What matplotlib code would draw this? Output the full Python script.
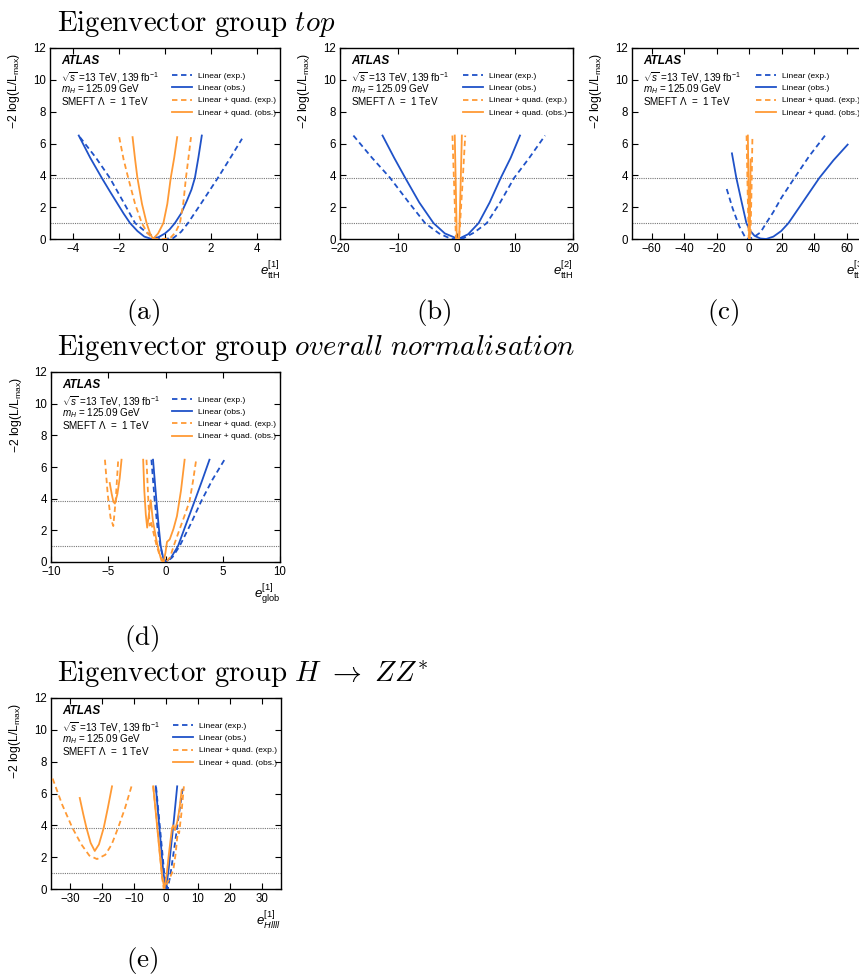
import numpy as np
import matplotlib
matplotlib.use("Agg")
import matplotlib.pyplot as plt

plt.rcParams['font.family'] = ['Liberation Sans', 'DejaVu Sans']
plt.rcParams['mathtext.fontset'] = 'custom'
plt.rcParams['mathtext.rm'] = 'Liberation Sans'
plt.rcParams['mathtext.it'] = 'Liberation Sans:italic'
plt.rcParams['mathtext.bf'] = 'Liberation Sans:bold'

BLUE = '#1f52c8'
ORANGE = '#ff9a35'

# ---- panel (a): e_ttH^[1]
a_lin_exp_x = [-3.7, -3.0, -2.4, -1.8, -1.3, -0.8, -0.4, -0.1, 0.35, 0.7, 1.0, 1.6, 2.3, 2.8, 3.35]
a_lin_exp_y = [6.4, 5.1, 3.84, 2.3, 1.0, 0.4, 0.1, 0.0, 0.05, 0.45, 1.0, 2.3, 3.84, 5.0, 6.3]
a_lin_obs_x = [-3.75, -3.25, -2.75, -2.4, -2.1, -1.8, -1.52, -1.2, -0.9, -0.58, -0.3, 0.0, 0.2, 0.43, 0.7, 0.95, 1.15, 1.3, 1.45, 1.6]
a_lin_obs_y = [6.5, 5.1, 3.84, 3.0, 2.3, 1.6, 1.0, 0.5, 0.15, 0.0, 0.1, 0.35, 0.6, 1.0, 1.6, 2.4, 3.1, 3.84, 5.1, 6.5]
a_quad_exp_x = [-1.99, -1.8, -1.6, -1.3, -1.01, -0.75, -0.5, -0.2, 0.2, 0.45, 0.65, 0.8, 0.91, 1.02, 1.13]
a_quad_exp_y = [6.4, 5.0, 3.84, 2.2, 1.0, 0.35, 0.0, 0.0, 0.02, 0.4, 1.0, 2.3, 3.84, 5.1, 6.4]
a_quad_obs_x = [-1.41, -1.3, -1.2, -1.0, -0.8, -0.65, -0.52, -0.3, -0.07, 0.1, 0.25, 0.4, 0.53]
a_quad_obs_y = [6.4, 5.0, 3.84, 2.2, 1.0, 0.35, 0.0, 0.35, 1.0, 2.2, 3.84, 5.1, 6.4]

# ---- panel (b): e_ttH^[2]
b_lin_exp_x = [-17.7, -14.5, -11.4, -8.3, -5.4, -3.0, -1.0, 0.3, 1.2, 3.0, 5.2, 7.5, 9.9, 12.5, 15.2]
b_lin_exp_y = [6.5, 5.1, 3.84, 2.35, 1.0, 0.35, 0.02, 0.0, 0.05, 0.4, 1.0, 2.3, 3.84, 5.1, 6.5]
b_lin_obs_x = [-12.7, -10.7, -8.8, -6.4, -3.95, -2.0, 0.3, 2.0, 3.8, 5.7, 7.6, 9.3, 10.9]
b_lin_obs_y = [6.5, 5.1, 3.84, 2.3, 1.0, 0.35, 0.0, 0.3, 1.0, 2.3, 3.84, 5.1, 6.5]
b_quad_exp_x = [-0.7, -0.4, -0.1, 0.2, 0.46, 1.0, 1.5]
b_quad_exp_y = [6.5, 3.3, 0.05, 0.0, 0.05, 3.3, 6.5]
b_quad_obs_x = [-0.3, -0.12, 0.05, 0.25, 0.45, 0.7, 0.92]
b_quad_obs_y = [6.5, 3.3, 0.05, 0.0, 0.05, 3.3, 6.5]

# ---- panel (c): e_ttH^[3]
c_lin_exp_x = [-13.7, -10, -6, -2.1, 0, 3, 7.1, 10.6, 15, 20, 28, 37, 46.8]
c_lin_exp_y = [3.14, 1.9, 0.8, 0.06, 0.0, 0.12, 0.42, 1.0, 1.7, 2.6, 3.84, 5.2, 6.5]
c_lin_obs_x = [-10.5, -7.8, -4.7, -1.6, 0.5, 3.4, 7, 10.6, 15, 19.8, 24.3, 33, 43.3, 52, 60.7]
c_lin_obs_y = [5.38, 3.84, 2.4, 1.0, 0.55, 0.2, 0.03, 0.0, 0.15, 0.5, 1.0, 2.3, 3.84, 4.95, 5.93]
c_quad_exp_x = [-1.5, -0.9, -0.2, 0.3, 0.9, 1.6, 2.1]
c_quad_exp_y = [6.5, 3.3, 0.1, 0.0, 0.1, 3.3, 6.4]
c_quad_obs_x = [-0.7, -0.3, 0.1, 0.3, 0.55, 0.8, 1.0]
c_quad_obs_y = [6.5, 3.3, 0.1, 0.0, 0.5, 3.0, 5.0]

# ---- panel (d): e_glob^[1]
d_lin_exp_x = [-1.23, -0.94, -0.7, -0.45, -0.2, 0.1, 0.6, 1.23, 2.2, 3.12, 4.1, 5.15]
d_lin_exp_y = [6.46, 3.84, 2.2, 1.0, 0.25, 0.0, 0.3, 1.0, 2.4, 3.84, 5.2, 6.46]
d_lin_obs_x = [-1.09, -0.79, -0.6, -0.42, -0.2, 0.02, 0.5, 1.09, 1.8, 2.54, 3.2, 3.84]
d_lin_obs_y = [6.46, 3.84, 2.3, 1.0, 0.25, 0.0, 0.3, 1.0, 2.4, 3.84, 5.15, 6.46]
d_quad_exp_x1 = [-5.29, -5.05, -4.8, -4.56, -4.35, -4.13]
d_quad_exp_y1 = [6.46, 4.3, 2.8, 2.27, 3.9, 6.46]
d_quad_exp_x2 = [-1.66, -1.52, -1.38, -1.28, -1.1, -0.8, -0.5, -0.2, 0.05, 0.4, 0.71, 1.2, 1.7, 2.1, 2.4, 2.68]
d_quad_exp_y2 = [6.46, 4.2, 2.3, 2.6, 2.0, 1.1, 0.4, 0.05, 0.0, 0.3, 1.0, 2.0, 3.0, 3.84, 5.1, 6.46]
d_quad_obs_x1 = [-4.87, -4.7, -4.55, -4.42, -4.2, -4.0, -3.84]
d_quad_obs_y1 = [4.99, 4.3, 3.8, 3.69, 4.3, 5.3, 6.46]
d_quad_obs_x2 = [-1.95, -1.85, -1.72, -1.6, -1.45, -1.29, -1.1, -0.8, -0.55, -0.36, -0.16, 0.0, 0.13, 0.37, 0.7, 1.0, 1.35, 1.67]
d_quad_obs_y2 = [6.46, 4.5, 3.0, 2.17, 3.0, 3.9, 2.6, 1.4, 0.6, 0.1, 0.0, 0.6, 1.27, 1.43, 2.1, 2.9, 4.5, 6.46]

# ---- panel (e): e_Hllll^[1]
e_lin_exp_x = [-3.1, -2.2, -1.3, -0.5, 0.5, 1.3, 2.1, 2.9, 3.7, 4.5, 5.3]
e_lin_exp_y = [6.4, 4.5, 2.6, 0.9, 0.0, 0.8, 1.9, 3.0, 4.2, 5.3, 6.4]
e_lin_obs_x = [-3.2, -2.4, -1.6, -0.8, 0.0, 0.8, 1.6, 2.5, 3.5]
e_lin_obs_y = [6.45, 4.6, 2.8, 1.0, 0.0, 1.2, 2.7, 4.4, 6.45]
e_quad_exp_x1 = [-35.5, -32.5, -29.3, -26.5, -24, -21.6, -19, -17, -15, -12.8, -10.8]
e_quad_exp_y1 = [6.94, 5.3, 3.84, 2.8, 2.1, 1.88, 2.15, 2.8, 3.84, 5.1, 6.45]
e_quad_exp_x2 = [-4.0, -3.0, -2.0, -1.2, -0.7, 0.2, 1.2, 2.3, 3.0, 3.7, 4.1, 4.8, 5.6]
e_quad_exp_y2 = [6.45, 4.5, 2.4, 0.7, 0.0, 0.3, 0.7, 1.2, 2.2, 3.6, 3.5, 4.7, 6.45]
e_quad_obs_x1 = [-27, -25.9, -24.9, -23.6, -22.3, -21, -19.5, -18.2, -16.9]
e_quad_obs_y1 = [5.72, 4.7, 3.84, 2.9, 2.39, 2.8, 3.84, 5.1, 6.45]
e_quad_obs_x2 = [-4.0, -3.0, -2.0, -1.2, -0.5, 0.2, 0.9, 1.5, 1.9, 2.3, 2.8, 3.5, 4.2, 4.9]
e_quad_obs_y2 = [6.45, 4.4, 2.3, 0.8, 0.0, 0.9, 2.2, 3.2, 3.84, 4.0, 3.7, 4.2, 5.0, 6.2]

labels = ['Linear (exp.)', 'Linear (obs.)', 'Linear + quad. (exp.)', 'Linear + quad. (obs.)']


def join(*segs):
    out = []
    for i, s in enumerate(segs):
        if i:
            out.append(np.nan)
        out.extend(s)
    return np.array(out, dtype=float)


W, H = 859, 977
fig = plt.figure(figsize=(W / 100, H / 100), dpi=100)


def px_rect(left, top, right, bottom):
    return [left / W, 1 - bottom / H, (right - left) / W, (bottom - top) / H]


def panel(rect, xlim, xticks, xlabel, lin_exp, lin_obs, quad_exp, quad_obs):
    ax = fig.add_axes(rect)
    ax.axhline(3.84, color='#777777', lw=0.8, ls=(0, (1, 1)), zorder=1)
    ax.axhline(1.0, color='#777777', lw=0.8, ls=(0, (1, 1)), zorder=1)
    styles = [(BLUE, (0, (3, 2))), (BLUE, '-'), (ORANGE, (0, (3, 2))), (ORANGE, '-')]
    for (xs, ys), (col, ls), lab in zip([lin_exp, lin_obs, quad_exp, quad_obs], styles, labels):
        ax.plot(xs, ys, color=col, ls=ls, lw=1.3, label=lab, zorder=3,
                solid_joinstyle='round', dash_joinstyle='round')
    ax.set_xlim(*xlim)
    ax.set_ylim(0, 12)
    ax.set_xticks(xticks)
    ax.set_yticks(range(0, 13, 2))
    ax.tick_params(direction='in', top=True, right=True, length=4, width=0.8,
                   labelsize=8.3, pad=3)
    for sp in ax.spines.values():
        sp.set_linewidth(1.0)
    ax.set_ylabel(r'$-$2 log(L/L$_{\rm max}$)', fontsize=8.7, loc='top')
    ax.yaxis.set_label_coords(-0.12, 0.975)
    ax.set_xlabel(xlabel, fontsize=9.5, loc='right', labelpad=3)
    ax.text(0.047, 0.934, 'ATLAS', transform=ax.transAxes, fontsize=8.5,
            weight='bold', style='italic', va='center')
    ax.text(0.047, 0.845, r'$\sqrt{s}$ =13 TeV, 139 fb$^{-1}$', transform=ax.transAxes,
            fontsize=7.1, va='center')
    ax.text(0.047, 0.783, r'$m_H$ = 125.09 GeV', transform=ax.transAxes,
            fontsize=7.1, va='center')
    ax.text(0.047, 0.72, r'SMEFT $\Lambda$  =  1 TeV', transform=ax.transAxes,
            fontsize=7.1, va='center')
    ax.legend(loc='upper left', bbox_to_anchor=(0.53, 0.873), frameon=False, fontsize=6,
              handlelength=2.4, handletextpad=0.7, labelspacing=0.52,
              borderpad=0, borderaxespad=0)
    return ax


panel(px_rect(50, 48, 280, 239), (-5, 5), [-4, -2, 0, 2, 4], r'$e^{[1]}_{\rm ttH}$',
      (a_lin_exp_x, a_lin_exp_y), (a_lin_obs_x, a_lin_obs_y),
      (a_quad_exp_x, a_quad_exp_y), (a_quad_obs_x, a_quad_obs_y))
panel(px_rect(340, 48, 573, 239), (-20, 20), [-20, -10, 0, 10, 20], r'$e^{[2]}_{\rm ttH}$',
      (b_lin_exp_x, b_lin_exp_y), (b_lin_obs_x, b_lin_obs_y),
      (b_quad_exp_x, b_quad_exp_y), (b_quad_obs_x, b_quad_obs_y))
panel(px_rect(632, 48, 866, 239), (-72, 72), [-60, -40, -20, 0, 20, 40, 60], r'$e^{[3]}_{\rm ttH}$',
      (c_lin_exp_x, c_lin_exp_y), (c_lin_obs_x, c_lin_obs_y),
      (c_quad_exp_x, c_quad_exp_y), (c_quad_obs_x, c_quad_obs_y))
panel(px_rect(51, 372, 280, 562), (-10, 10), [-10, -5, 0, 5, 10], r'$e^{[1]}_{\rm glob}$',
      (d_lin_exp_x, d_lin_exp_y), (d_lin_obs_x, d_lin_obs_y),
      (join(d_quad_exp_x1, d_quad_exp_x2), join(d_quad_exp_y1, d_quad_exp_y2)),
      (join(d_quad_obs_x1, d_quad_obs_x2), join(d_quad_obs_y1, d_quad_obs_y2)))
panel(px_rect(51, 698, 281, 889), (-36, 36), [-30, -20, -10, 0, 10, 20, 30], r'$e^{[1]}_{Hllll}$',
      (e_lin_exp_x, e_lin_exp_y), (e_lin_obs_x, e_lin_obs_y),
      (join(e_quad_exp_x1, e_quad_exp_x2), join(e_quad_exp_y1, e_quad_exp_y2)),
      (join(e_quad_obs_x1, e_quad_obs_x2), join(e_quad_obs_y1, e_quad_obs_y2)))

titles = [r'$\mathrm{Eigenvector\ group}\ top$',
          r'$\mathrm{Eigenvector\ group}\ overall\ normalisation$',
          r'$\mathrm{Eigenvector\ group}\ H\ \rightarrow\ ZZ^{*}$']
for t, base in zip(titles, [30.7, 355, 682]):
    fig.text(57 / W, 1 - base / H, t, fontsize=20.8, va='baseline', ha='left',
             math_fontfamily='cm')

for lab, x, y in [('(a)', 143, 313), ('(b)', 434, 313), ('(c)', 723, 313),
                  ('(d)', 142, 638), ('(e)', 142, 961)]:
    fig.text(x / W, 1 - y / H, r'$\mathrm{%s}$' % lab, fontsize=19.5, ha='center',
             va='center', math_fontfamily='cm')

fig.savefig('out.png', dpi=100)
